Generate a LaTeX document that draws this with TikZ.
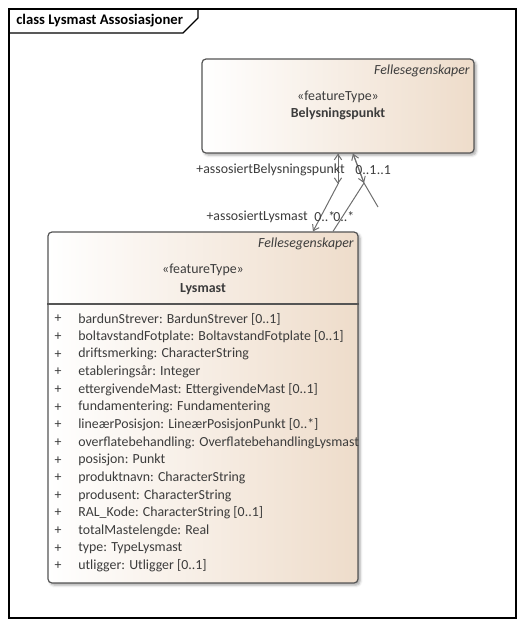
\documentclass[tikz,border=0pt]{standalone}
\usepackage{fontspec}
\setmainfont{Carlito}
\usetikzlibrary{arrows.meta,shadows.blur}
\definecolor{peach}{RGB}{238,220,202}
\definecolor{txt}{RGB}{60,60,60}
\definecolor{edge}{RGB}{85,85,85}
\definecolor{conn}{RGB}{110,110,110}
\newcommand{\fsz}{\fontsize{10.4}{12}\selectfont}
\tikzset{
  classbox/.style={draw=edge, line width=0.9pt, rounded corners=3pt, left color=white, right color=peach,
    blur shadow={shadow xshift=1.6pt, shadow yshift=-1.6pt, shadow blur steps=4, shadow opacity=35}, inner sep=0pt},
  lbl/.style={font=\fsz, text=txt, inner sep=0pt},
  attr/.style={lbl, anchor=west},
  conline/.style={draw=conn, line width=0.75pt},
  barb/.style={-{Straight Barb[length=4pt,width=5.5pt]}},
}
\begin{document}
\begin{tikzpicture}[x=0.75pt,y=-0.75pt]
\useasboundingbox (0,0) rectangle (525,626);
% frame
\draw[line width=0.9pt] (9,9) rectangle (516,618);
\draw[line width=0.9pt] (9,33) -- (183,33) -- (198,18) -- (198,9);
\node[lbl, anchor=west, font=\fontsize{11}{13}\selectfont\bfseries, text=black] (title) at (16,21) {class Lysmast Assosiasjoner};

% Belysningspunkt
\node[classbox, minimum width=204pt, minimum height=70.5pt] (bp) at (338,106) {};
\node[lbl, anchor=east, font=\fsz\itshape] (bpfe) at (470,71) {Fellesegenskaper};
\node[lbl] (bpst) at (338,97) {«featureType»};
\node[lbl, font=\fsz\bfseries] (bpname) at (338,114) {Belysningspunkt};

% Lysmast
\node[classbox, minimum width=232.5pt, minimum height=263.25pt] (lm) at (203,407.5) {};
\draw[draw=edge, line width=0.9pt] (lm.west |- 0,304) -- (lm.east |- 0,304);
\node[lbl, anchor=east, font=\fsz\itshape] (lmfe) at (354,244) {Fellesegenskaper};
\node[lbl] (lmst) at (203,270) {«featureType»};
\node[lbl, font=\fsz\bfseries] (lmname) at (203,289) {Lysmast};

\foreach \t [count=\i from 0] in {
  bardunStrever: BardunStrever [0..1],
  boltavstandFotplate: BoltavstandFotplate [0..1],
  driftsmerking: CharacterString,
  etableringsår: Integer,
  ettergivendeMast: EttergivendeMast [0..1],
  fundamentering: Fundamentering,
  lineærPosisjon: LineærPosisjonPunkt [0..*],
  overflatebehandling: OverflatebehandlingLysmast,
  posisjon: Punkt,
  produktnavn: CharacterString,
  produsent: CharacterString,
  RAL\_Kode: CharacterString [0..1],
  totalMastelengde: Real,
  type: TypeLysmast,
  utligger: Utligger [0..1]} {
  \node[lbl] (plus\i) at (58,319+\i*17.65) {+};
  \node[attr] (attr\i) at (78,319+\i*17.65) {\t};
}

% connectors
\coordinate (b1) at (bp.south);
\coordinate (k1) at (338,184);
\coordinate (l1) at ([xshift=82.5pt]lm.north);
\coordinate (b2) at ([xshift=11.25pt]bp.south);
\coordinate (k2) at (364,183);
\coordinate (l2) at ([xshift=97.5pt]lm.north);
\coordinate (s2) at (378,207);

\draw[conline, barb] (k1) -- (b1);
\draw[conline, barb] (b1) -- (k1);
\draw[conline, barb] (k1) -- (l1);
\draw[conline, barb] (k2) -- (b2);
\draw[conline, barb] (b2) -- (k2);
\draw[conline] (k2) -- (l2);
\draw[conline] (k2) -- (s2);

\node[lbl, anchor=east] (r1) at (345,170) {+assosiertBelysningspunkt};
\node[lbl, anchor=west] (m1) at (355,170) {0..1};
\node[lbl, anchor=west] (m2) at (m1.east) {..1};
\node[lbl, anchor=east] (r2) at (308,217) {+assosiertLysmast};
\node[lbl, anchor=west] (m3) at (314,217) {0..*};
\node[lbl, anchor=west] (m4) at (333,217) {0..*};
\end{tikzpicture}
\end{document}
